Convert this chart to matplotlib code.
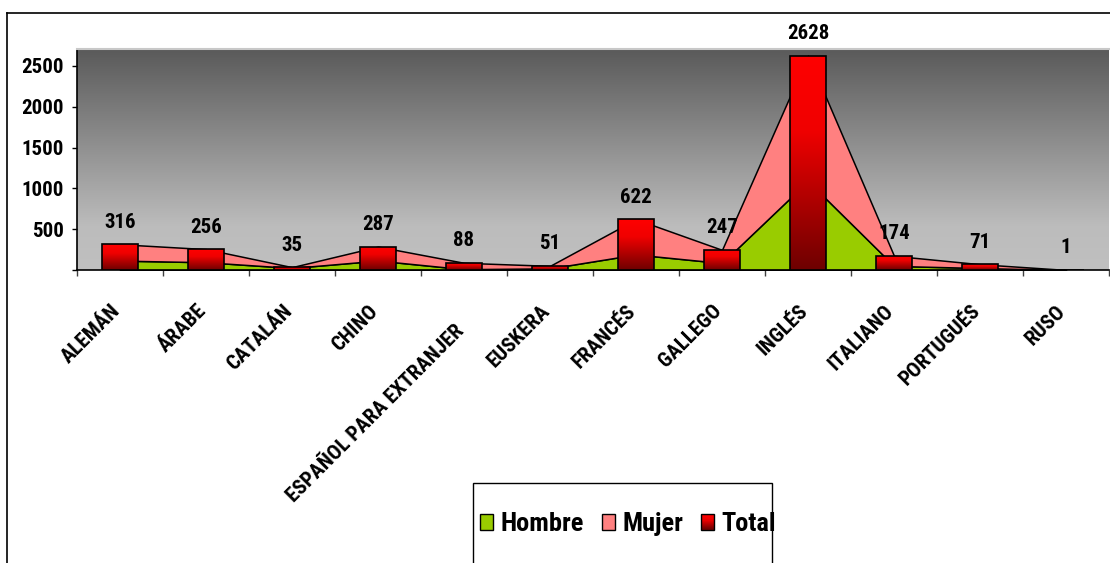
import numpy as np
import matplotlib
matplotlib.use('Agg')
import matplotlib.pyplot as plt
from matplotlib import font_manager
from matplotlib.patches import Rectangle, Patch
from matplotlib.lines import Line2D
from matplotlib.legend_handler import HandlerBase
from matplotlib.colors import LinearSegmentedColormap
from matplotlib.transforms import ScaledTranslation

# pick a narrow sans if one is installed (chart uses Arial Narrow bold)
names = {f.name for f in font_manager.fontManager.ttflist}
narrow = [n for n in ['Liberation Sans Narrow', 'Arial Narrow', 'Roboto Condensed',
                      'Open Sans Condensed', 'Noto Sans Condensed', 'DejaVu Sans Condensed']
          if n in names]
NARROW = bool(narrow and narrow[0] != 'DejaVu Sans Condensed')
plt.rcParams['font.family'] = narrow[:1] + ['Liberation Sans', 'DejaVu Sans']
plt.rcParams['font.weight'] = 'bold'

# Data
idiomas = ['ALEMÁN', 'ÁRABE', 'CATALÁN', 'CHINO', 'ESPAÑOL PARA EXTRANJER', 'EUSKERA',
           'FRANCÉS', 'GALLEGO', 'INGLÉS', 'ITALIANO', 'PORTUGUÉS', 'RUSO']
total = [316, 256, 35, 287, 88, 51, 622, 247, 2628, 174, 71, 1]
hombre = [115, 95, 25, 115, 10, 20, 190, 85, 1090, 50, 24, 0]
mujer = [201, 161, 10, 172, 78, 31, 432, 162, 1538, 124, 47, 1]

W, H = 1110, 563
fig = plt.figure(figsize=(W / 100, H / 100), dpi=100)
ax = fig.add_axes([77 / W, 1 - 270 / H, (1109 - 77) / W, (270 - 49) / H])

fs = 15 if NARROW else 13
fs_leg = 19 if NARROW else 16.5

YMAX = 2708
x = np.arange(len(idiomas))

# plot area background gradient
bg_cmap = LinearSegmentedColormap.from_list(
    'bg', [(0, '#c0c0c0'), (0.2, '#bcbcbc'), (1, '#5a5a5a')])
grad = np.linspace(0, 1, 256).reshape(-1, 1)
ax.imshow(grad, extent=[-0.5, len(idiomas) - 0.5, 0, YMAX], origin='lower',
          aspect='auto', cmap=bg_cmap, zorder=0)

# stacked areas
ax.stackplot(x, hombre, mujer, colors=['#99cc00', '#ff8080'],
             edgecolor='black', linewidth=1.1, zorder=2)

# total bars with red gradient
bar_cmap = LinearSegmentedColormap.from_list(
    'bar', [(0, '#6e0000'), (0.65, '#f00000'), (1, '#ff0000')])
bw = 0.41
bars = ax.bar(x, total, width=bw, facecolor='none', edgecolor='black',
              linewidth=1.2, zorder=4)
for xi, t, b in zip(x, total, bars):
    im = ax.imshow(grad, extent=[xi - bw / 2, xi + bw / 2, 0, t], origin='lower',
                   aspect='auto', cmap=bar_cmap, zorder=3)
    im.set_clip_path(b)
    ax.annotate(str(t), (xi, t), xytext=(0, 9), textcoords='offset points',
                ha='center', va='bottom', fontsize=fs, fontweight='bold')

ax.set_xlim(-0.5, len(idiomas) - 0.5)
ax.set_ylim(0, YMAX)

ax.set_yticks([0, 500, 1000, 1500, 2000, 2500])
ax.set_yticklabels(['', '500', '1000', '1500', '2000', '2500'])
ax.tick_params(axis='y', length=3.6, width=1, pad=6, labelsize=fs)
ax.set_xticks(np.arange(-0.5, len(idiomas), 1))
ax.set_xticklabels([])
ax.tick_params(axis='x', length=4.3, width=1, color='#404040')

for s in ['left', 'bottom']:
    ax.spines[s].set_color('black')
    ax.spines[s].set_linewidth(1.2)
ax.spines['right'].set_visible(False)
ax.spines['top'].set_color('#c8c8c8')
ax.spines['top'].set_linewidth(1.5)

# category labels
for i, name in enumerate(idiomas):
    dy = -38 if i != 4 else -58
    off = ScaledTranslation(-3 / 100, dy / 100, fig.dpi_scale_trans)
    ax.text(i, 0, name, transform=ax.get_xaxis_transform() + off,
            rotation=45, rotation_mode='anchor', ha='right', va='center',
            fontsize=fs, fontweight='bold')

# outer frame
fig.add_artist(Line2D([7 / W, 1], [1 - 13 / H, 1 - 13 / H], color='black', lw=1.2,
                      transform=fig.transFigure))
fig.add_artist(Line2D([7 / W, 7 / W], [0, 1 - 13 / H], color='black', lw=1.2,
                      transform=fig.transFigure))

# legend box
fig.add_artist(Rectangle((473 / W, -0.01), (772 - 473) / W, 1 - 483 / H + 0.01,
                         facecolor='white', edgecolor='black', lw=1,
                         transform=fig.transFigure))


class GradientHandler(HandlerBase):
    def create_artists(self, legend, orig_handle, xdescent, ydescent, width,
                       height, fontsize, trans):
        arts = []
        n = 14
        for k in range(n):
            arts.append(Rectangle((-xdescent, -ydescent + height * k / n), width,
                                  height / n, facecolor=bar_cmap((k + 0.5) / n),
                                  edgecolor='none', transform=trans))
        arts.append(Rectangle((-xdescent, -ydescent), width, height,
                              facecolor='none', edgecolor='black', lw=1,
                              transform=trans))
        return arts


total_handle = Rectangle((0, 0), 1, 1)
handles = [Patch(facecolor='#99cc00', edgecolor='black'),
           Patch(facecolor='#ff8080', edgecolor='black'),
           total_handle]
hl = 13 / (fs_leg * 100 / 72)
leg = fig.legend(handles, ['Hombre', 'Mujer', 'Total'], loc='center',
                 bbox_to_anchor=(628 / W, 1 - 524 / H), ncol=3, frameon=False,
                 prop={'size': fs_leg, 'weight': 'bold'}, handlelength=hl,
                 handleheight=hl * 1.1, handletextpad=0.28, columnspacing=0.68,
                 handler_map={total_handle: GradientHandler()})
leg.set_zorder(5)

fig.savefig('out.png', dpi=100)
